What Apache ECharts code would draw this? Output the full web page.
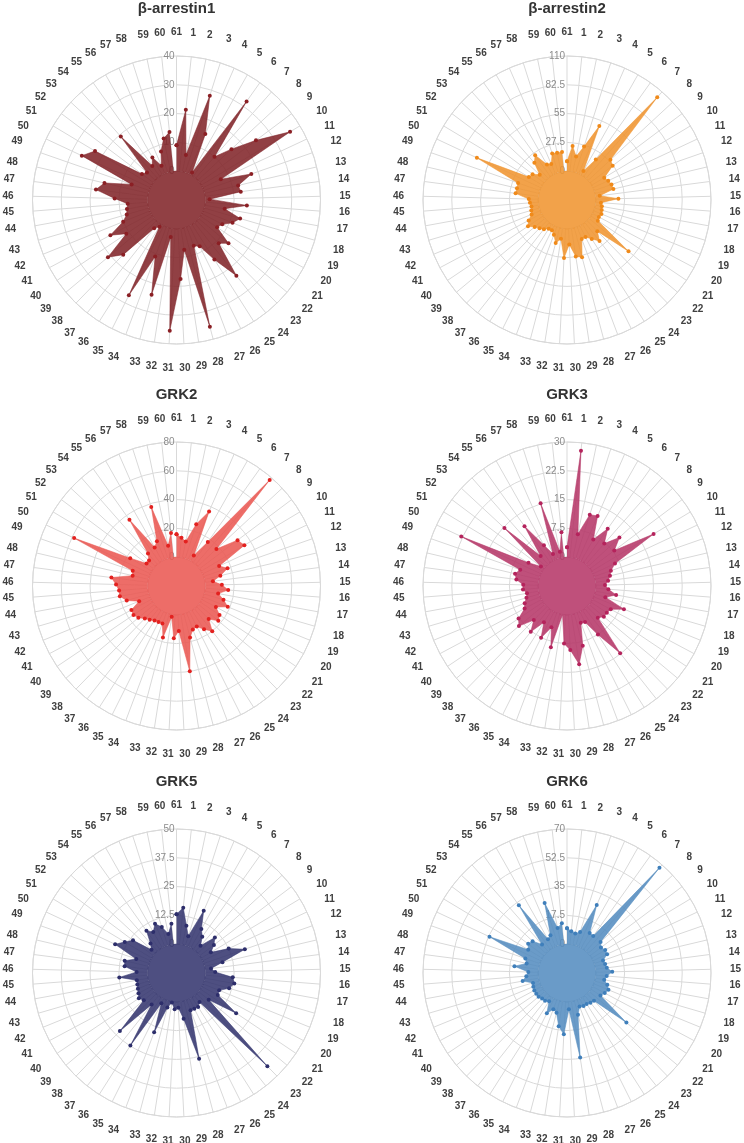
<!DOCTYPE html>
<html><head><meta charset="utf-8">
<script src="https://cdn.jsdelivr.net/npm/echarts@6/dist/echarts.min.js"></script>
<style>html,body{margin:0;padding:0;background:#fff}#c{width:744px;height:1143px}</style>
</head><body><div id="c"></div>
<script>
// ---- data ----
const categories = ['61','1','2','3','4','5','6','7','8','9','10','11','12','13','14','15','16','17','18','19','20',
  '21','22','23','24','25','26','27','28','29','30','31','32','33','34','35','36','37','38','39','40',
  '41','42','43','44','45','46','47','48','49','50','51','52','53','54','55','56','57','58','59','60'];
const titles = ['β-arrestin1', 'β-arrestin2', 'GRK2', 'GRK3', 'GRK5', 'GRK6'];
const axisMax = [40, 110, 80, 30, 50, 70];
const arrestin1 = [9,21.5,6,28,15,1,32,10,16,24.5, 36,7,17.5,12,12.5,1.5,14.5,7,13,11, 8,7,13.5,11,23.5,14.5,8,7,35.5,7.5,
  17.5,35.5,3,24,11,27,1,2.5,16.5,21, 11,16,10,8,7.5,7,11.5,18.2,15.7,6.5, 26.3,23,5,4,19.3,4.5,7,3,7.7,11.8, 13.7];
const arrestin2 = [9.5,24.4,15,26,49.5,4.4,20,103,29,27, 14,16,17.5,18,4,21.6,5,6.3,7,8, 7,8,49,14,22.5,16.5,12,12.4,29,27,
  15,28,10,15,8,4.8,5,8,10,12.7, 17.4,14,9,8,7,8,9,22,21.6,22, 67.5,15,13.6,8,19.7,25,11.4,10,19,18.7, 18.6];
const grk2 = [16,13.6,11.5,25,36.5,4.4,17.5,78,17.8,33, 35,12.7,17.5,11.3,5.5,11.5,16,9.4,14,18.4, 11,16,17.8,12,20,15.6,11.5,12.2,17,40,
  11.3,16.4,1.6,17,7.8,8,8.4,10,11.5,14.5, 16,15.5,8,16,20,20,22,25.6,11.3,12.2, 58.5,17.5,6,6,10,36.4,10.8,14,37.6,8.5, 17];
const grk3 = [2.6,27.9,6.3,12,12.4,6.4,10.8,7.2,11.1,7.9, 18.8,6.3,4.6,4,3.3,2.4,3.3,5.5,2.9,8.5, 5.4,5,5,4,14.8,7.5,3,2.7,8.6,13.1,
  9.2,7.5,0,9,4,7.6,3.7,7.7,4.9,8.8, 7.7,5,4.4,3.5,3.1,4,3.9,5.8,6.4,5.4, 22.9,4.2,1,14.7,2.9,11.6,4.7,1.6,15.1,1.6, 6.6];
const grk5 = [13,16,8.5,4.3,17,9.4,6.8,3.3,10.2,7.8, 4.9,12.5,18.9,8,2.6,4.3,12,13,11.3,7.5, 7.8,18.7,5.7,44,3.6,5,4.8,4.8,26,7.6,
  2.6,3.3,0.5,3,15,2.2,24.8,4.9,22.7,6, 7.2,6.2,5.6,5.2,5,12.4,4.8,10.2,10.6,6, 16.9,13.7,11.1,2.3,4.6,10,8,10.8,8.5,4.8, 9];
const grk6 = [9.7,8,7,8.7,27.6,10.5,10,67.6,10.3,8.3, 9.6,9.4,5.7,6.3,6.9,10,6.7,5.5,8,9.7, 8.5,7,29.5,6,5.5,4.8,5,4.2,8.7,34.5,
  4.6,19.8,15.3,7.5,6,9.9,2.8,4,4.2,5, 5,5,4.6,4,9.9,7.3,6,14.7,7.7,9.3, 34.5,10,12,11,5.5,33,6,7.6,27.2,10.5, 12.9];
const seriesValues = [arrestin1, arrestin2, grk2, grk3, grk5, grk6];

// ---- styles / layout ----
const fillColors = ['#82262a', '#f09531', '#ea5953', '#b63869', '#363770', '#558dc0'];
const dotColors  = ['#8b1f24', '#f08a1a', '#e3211f', '#b5235c', '#2d2e6b', '#3f7fbb'];
const colX = [176.5, 567];
const rowY = [200, 586, 973];
const R = 144, R0 = 28.8;
const FONT = 'Liberation Sans, Arial, sans-serif';
const GRID = '#d9d9d9';

const option = { animation: false, title: [], polar: [], angleAxis: [], radiusAxis: [], series: [] };
seriesValues.forEach((vals, i) => {
  const cx = colX[i % 2], cy = rowY[Math.floor(i / 2)];
  option.title.push({
    text: titles[i], left: cx, top: cy - 199, textAlign: 'center', padding: 0,
    textStyle: { fontSize: 15, fontWeight: 'bold', color: '#333', fontFamily: FONT }
  });
  option.polar.push({ center: [cx, cy], radius: [R0, R] });
  option.angleAxis.push({
    polarIndex: i, type: 'category', data: categories, startAngle: 90, clockwise: true, boundaryGap: false,
    axisLine: { show: true, lineStyle: { color: GRID, width: 1 } },
    axisTick: { show: false },
    axisLabel: { interval: 0, margin: 19, fontSize: 10, fontWeight: 'bold', color: '#404040', fontFamily: FONT },
    splitLine: { show: true, lineStyle: { color: GRID, width: 1 } }
  });
  option.radiusAxis.push({
    polarIndex: i, type: 'value', min: 0, max: axisMax[i], interval: axisMax[i] / 4,
    axisLine: { show: false }, axisTick: { show: false },
    axisLabel: { margin: 2, fontSize: 10, color: '#8c8c8c', fontFamily: FONT },
    splitLine: { show: true, lineStyle: { color: GRID, width: 1 } }
  });
  const data = vals.map((v, k) => [v, k]);
  data.push([vals[0], 0]);
  option.series.push({
    type: 'line', coordinateSystem: 'polar', polarIndex: i, data: data,
    symbol: 'circle', symbolSize: 4, showAllSymbol: true, silent: true,
    lineStyle: { width: 0.6, color: fillColors[i], opacity: 0.9 },
    itemStyle: { color: dotColors[i] },
    areaStyle: { color: fillColors[i], opacity: 0.88 },
    z: 3
  });
  option.series.push({
    type: 'pie', center: [cx, cy], radius: [0, R0 + 0.4], silent: true, z: 2,
    data: [{ value: 1 }], label: { show: false }, labelLine: { show: false },
    itemStyle: { color: fillColors[i], opacity: 0.88, borderWidth: 0 }
  });
});
const chart = echarts.init(document.getElementById('c'), null, { renderer: 'canvas' });
chart.setOption(option);
</script></body></html>
